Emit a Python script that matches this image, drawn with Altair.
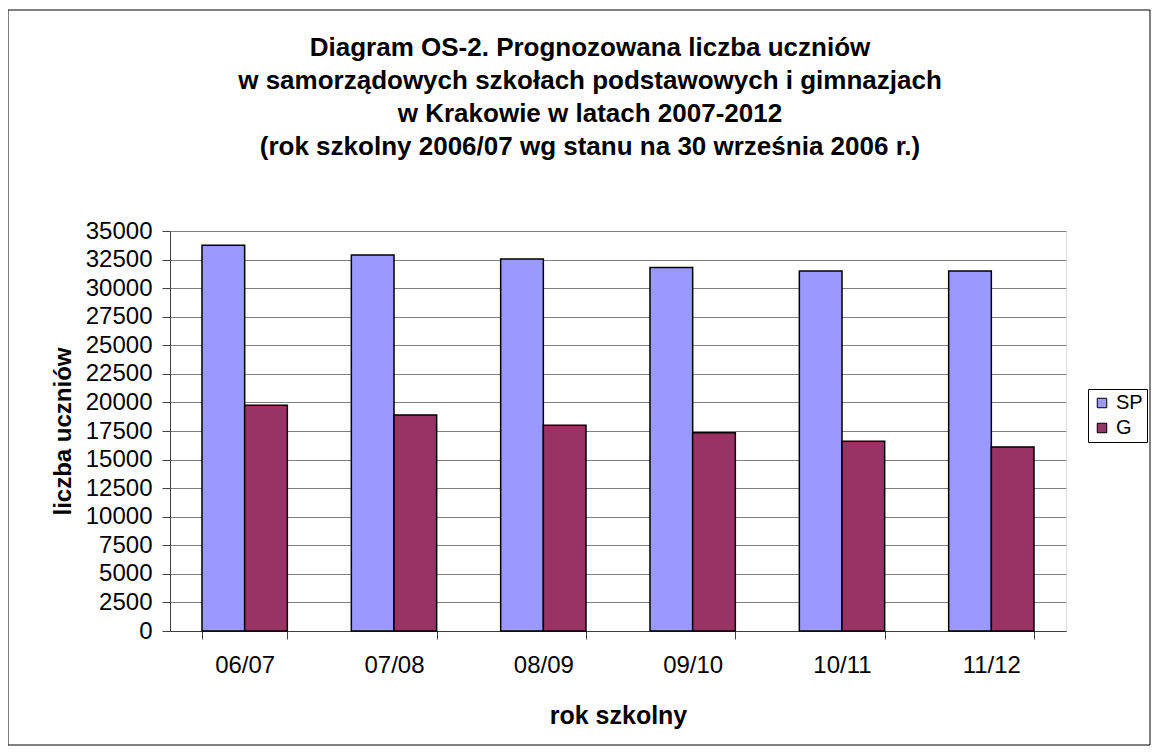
import altair as alt
import pandas as pd

# ---- data ----
years = ["06/07", "07/08", "08/09", "09/10", "10/11", "11/12"]
series = ["SP", "G"]
sp_values = [33750, 32900, 32550, 31800, 31500, 31500]
g_values = [19750, 18900, 18000, 17350, 16600, 16100]
y_ticks = [0, 2500, 5000, 7500, 10000, 12500, 15000, 17500, 20000,
           22500, 25000, 27500, 30000, 32500, 35000]
title_lines = [
    "Diagram OS-2. Prognozowana liczba uczniów",
    "w samorządowych szkołach podstawowych i gimnazjach",
    "w Krakowie w latach 2007-2012",
    "(rok szkolny 2006/07 wg stanu na 30 września 2006 r.)",
]
colors = ["#9999FF", "#993366"]

rows = []
for i, yr in enumerate(years):
    rows.append({"rok": yr, "seria": "SP", "liczba": sp_values[i]})
    rows.append({"rok": yr, "seria": "G", "liczba": g_values[i]})
df = pd.DataFrame(rows)

FONT = "Liberation Sans"
W, H = 896, 400
PAD_L, PAD_T = 162, 223
PAD_R = 1144 - PAD_L - W
PAD_B = 739 - PAD_T - H

bars = alt.Chart(df).mark_bar(stroke="black", strokeWidth=1.5).encode(
    x=alt.X(
        "rok:N", sort=years,
        scale=alt.Scale(paddingInner=1.5 / 3.5, paddingOuter=0.75 / 3.5),
        axis=alt.Axis(
            title="rok szkolny", labelAngle=0, labelFontSize=24, labelFont=FONT,
            labelColor="black", labelPadding=14, tickSize=8, tickBand="extent",
            tickColor="#404040", domainColor="#404040", grid=False,
            titleFont=FONT, titleFontSize=25, titleFontWeight="bold", titleColor="black",
            titleX=W / 2, titleY=92, titleBaseline="alphabetic", titleAlign="center",
        ),
    ),
    xOffset=alt.XOffset("seria:N", sort=series,
                        scale=alt.Scale(paddingInner=0, paddingOuter=0)),
    y=alt.Y(
        "liczba:Q",
        scale=alt.Scale(domain=[0, 35000], nice=False, zero=True),
        axis=alt.Axis(
            title="liczba uczniów", values=y_ticks, format="d",
            labelFontSize=24, labelFont=FONT, labelColor="black", labelPadding=10,
            labelFlush=False, labelOverlap=False,
            tickSize=8, tickColor="#404040", domainColor="#404040",
            grid=True, gridColor="#808080", gridWidth=1,
            titleFont=FONT, titleFontSize=24, titleFontWeight="bold", titleColor="black",
            titleAngle=270, titleX=-100, titleY=H / 2, titleBaseline="alphabetic",
            titleAlign="center",
        ),
    ),
    color=alt.Color(
        "seria:N", sort=series,
        scale=alt.Scale(domain=series, range=colors),
        legend=alt.Legend(
            title=None, orient="none", legendX=918, legendY=158,
            labelFont=FONT, labelFontSize=20, labelColor="black",
            symbolType="square", symbolSize=90, symbolStrokeColor="black",
            symbolStrokeWidth=1, strokeColor="black", padding=4, rowPadding=5,
            labelOffset=4,
        ),
    ),
)

frame = alt.Chart(pd.DataFrame({"k": [0]})).mark_rect(
    fillOpacity=0, stroke="black", strokeWidth=1, clip=False
).encode(
    x=alt.value(-PAD_L), x2=alt.value(W + PAD_R - 2),
    y=alt.value(-PAD_T + 2), y2=alt.value(H + PAD_B - 2),
)

chart = alt.layer(bars, frame).properties(
    width=W, height=H,
    padding={"left": PAD_L, "top": PAD_T, "right": PAD_R, "bottom": PAD_B},
    autosize=alt.AutoSizeParams(type="none"),
    title=alt.TitleParams(
        text=title_lines, font=FONT, fontSize=26, fontWeight="bold", color="black",
        lineHeight=33, anchor="middle", frame="group", offset=0, dy=150, dx=-28,
    ),
).configure_view(
    stroke="#808080", strokeWidth=1
).configure(background="white")

chart.save("out.html", embed_options={"renderer": "svg", "actions": False})
